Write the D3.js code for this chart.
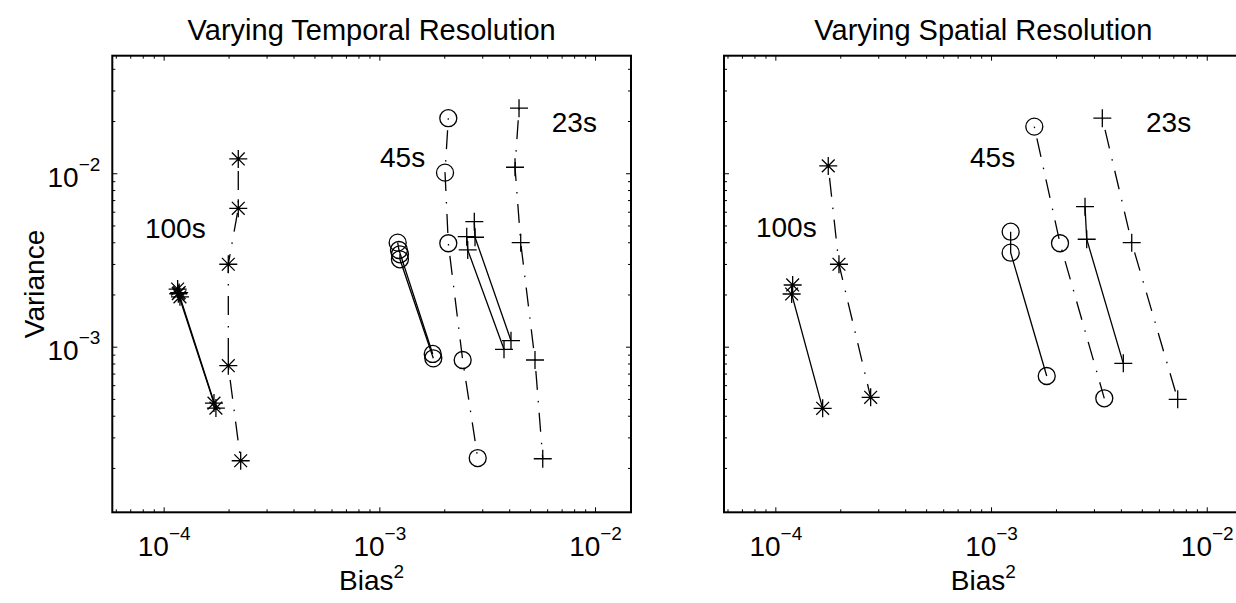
<!DOCTYPE html>
<html>
<head>
<meta charset="utf-8">
<script src="https://cdn.jsdelivr.net/npm/d3@7"></script>
<style>
  body { margin: 0; background: #fff; }
  svg { display: block; font-family: "Liberation Sans", Arial, Helvetica, sans-serif; }
</style>
</head>
<body>
<div id="chart"></div>
<script>
// axis limits (log scales)
const xDomain = [5.78e-5, 1.468e-2];
const yDomain = [1.11e-4, 4.76e-2];
const xMajor = [1e-4, 1e-3, 1e-2];
const yMajor = [1e-3, 1e-2];

const titles = ["Varying Temporal Resolution", "Varying Spatial Resolution"];
const resLabels = ["100s", "45s", "23s"];

// Varying temporal resolution: [bias^2, variance]
const t100Solid = [
  [[1.161e-4, 2.15e-3], [1.169e-4, 2.02e-3], [1.711e-4, 4.73e-4]],
  [[1.180e-4, 2.05e-3], [1.190e-4, 1.94e-3], [1.747e-4, 4.43e-4]]
];
const t100Dash = [[2.218e-4, 1.209e-2], [2.218e-4, 6.28e-3], [1.994e-4, 2.987e-3], [1.994e-4, 7.77e-4], [2.276e-4, 2.20e-4]];
const t45Solid = [
  [[1.216e-3, 3.98e-3], [1.233e-3, 3.61e-3], [1.768e-3, 9.08e-4]],
  [[1.246e-3, 3.41e-3], [1.246e-3, 3.19e-3], [1.779e-3, 8.57e-4]]
];
const t45Dash = [[2.088e-3, 2.076e-2], [2.016e-3, 1.008e-2], [2.088e-3, 3.947e-3], [2.434e-3, 8.38e-4], [2.858e-3, 2.281e-4]];
const t23Solid = [
  [[2.756e-3, 5.258e-3], [2.777e-3, 4.275e-3], [4.077e-3, 1.083e-3]],
  [[2.542e-3, 4.309e-3], [2.569e-3, 3.612e-3], [3.784e-3, 9.66e-4]]
];
const t23Dash = [[4.442e-3, 2.371e-2], [4.256e-3, 1.083e-2], [4.523e-3, 3.979e-3], [5.268e-3, 8.38e-4], [5.722e-3, 2.26e-4]];
const tLabelPos = [[8.19e-5, 4.24e-3], [1.007e-3, 1.087e-2], [6.3e-3, 1.738e-2]];

// Varying spatial resolution
const s100Solid = [[1.203e-4, 2.269e-3], [1.19e-4, 2.013e-3], [1.657e-4, 4.414e-4]];
const s100Dash = [[1.759e-4, 1.102e-2], [1.972e-4, 2.987e-3], [2.766e-4, 5.108e-4]];
const s45Solid = [[1.233e-3, 4.603e-3], [1.233e-3, 3.484e-3], [1.812e-3, 6.777e-4]];
const s45Dash = [[1.587e-3, 1.857e-2], [2.088e-3, 3.947e-3], [3.35e-3, 5.04e-4]];
const s23Solid = [[2.727e-3, 6.418e-3], [2.777e-3, 4.163e-3], [4.104e-3, 8.02e-4]];
const s23Dash = [[3.28e-3, 2.076e-2], [4.49e-3, 3.979e-3], [7.335e-3, 4.97e-4]];
const sLabelPos = [[8.13e-5, 4.29e-3], [7.99e-4, 1.087e-2], [5.23e-3, 1.738e-2]];

const W = 1236, H = 603;
const panelW = 518.7, panelH = 456.6, panelTop = 55.7;
const panelLeft = [112.3, 724];
const DASHDOT = "1.5,10.5,19,11";

const svg = d3.select("#chart").append("svg").attr("width", W).attr("height", H);

const x = d3.scaleLog().domain(xDomain).range([0, panelW]);
const y = d3.scaleLog().domain(yDomain).range([panelH, 0]);
const line = d3.line().x(d => x(d[0])).y(d => y(d[1]));

function minors(domain) {
  const out = [];
  for (let k = -6; k <= 0; k++) {
    for (let m = 2; m <= 9; m++) {
      const v = m * Math.pow(10, k);
      if (v > domain[0] && v < domain[1]) out.push(v);
    }
  }
  return out;
}

function supLabel(sel, d) {
  sel.text(null);
  sel.append("tspan").text("10");
  sel.append("tspan").attr("dy", -16).attr("font-size", 19)
    .text("\u2212" + Math.abs(Math.round(Math.log10(d))));
}

function marker(g, type, px, py) {
  const r = 9;
  if (type === "circle") {
    g.append("circle").attr("cx", px).attr("cy", py).attr("r", 8.5);
  } else {
    let p = `M${px - r},${py}H${px + r}M${px},${py - r}V${py + r}`;
    if (type === "star") {
      const q = 6.4;
      p += `M${px - q},${py - q}L${px + q},${py + q}M${px - q},${py + q}L${px + q},${py - q}`;
    }
    g.append("path").attr("d", p);
  }
}

function drawPanel(i, series, labelPos, showY) {
  const g = svg.append("g").attr("transform", `translate(${panelLeft[i]},${panelTop})`);

  // ticks (inward, on all four sides)
  const xm = minors(xDomain), ym = minors(yDomain);
  const axes = [
    ["bottom", d3.axisBottom(x), `translate(0,${panelH})`, xMajor, xm, true],
    ["top", d3.axisTop(x), null, xMajor, xm, false],
    ["left", d3.axisLeft(y), null, yMajor, ym, showY],
    ["right", d3.axisRight(y), `translate(${panelW},0)`, yMajor, ym, false]
  ];
  axes.forEach(([side, ax, tr, maj, mn, labels]) => {
    const a = g.append("g");
    if (tr) a.attr("transform", tr);
    a.call(ax.tickValues(maj).tickSizeInner(-5).tickSizeOuter(0).tickPadding(0)
      .tickFormat(labels ? (d => d) : ""));
    a.select(".domain").remove();
    if (labels) {
      const t = a.selectAll(".tick text").attr("fill", "#000").attr("font-size", 28).attr("dy", 0)
        .each(function(d) { supLabel(d3.select(this), d); });
      if (side === "bottom") t.attr("y", 44).attr("text-anchor", "middle");
      else t.attr("x", -12).attr("y", 13).attr("text-anchor", "end");
    }
    const m = a.append("g").call(ax.tickValues(mn).tickSizeInner(-3).tickFormat(""));
    m.select(".domain").remove();
    a.selectAll("line").attr("stroke", "#000").attr("stroke-width", 1);
  });

  g.append("rect").attr("width", panelW).attr("height", panelH)
    .attr("fill", "none").attr("stroke", "#000").attr("stroke-width", 2);

  // data
  const dg = g.append("g").attr("fill", "none").attr("stroke", "#000").attr("stroke-width", 1.3);
  series.forEach(s => {
    dg.append("path").attr("d", line(s.pts))
      .attr("stroke-dasharray", s.dash ? DASHDOT : null);
    s.pts.forEach(p => marker(dg, s.marker, x(p[0]), y(p[1])));
  });

  labelPos.forEach((p, k) => {
    g.append("text").attr("x", x(p[0])).attr("y", y(p[1]))
      .attr("font-size", 28).text(resLabels[k]);
  });

  // titles and axis labels
  g.append("text").attr("x", panelW / 2).attr("y", 40 - panelTop)
    .attr("text-anchor", "middle").attr("font-size", 29).text(titles[i]);
  const xl = g.append("text").attr("x", panelW / 2).attr("y", 590 - panelTop)
    .attr("text-anchor", "middle").attr("font-size", 28);
  xl.append("tspan").text("Bias");
  xl.append("tspan").attr("dy", -12).attr("font-size", 19).text("2");
  if (showY) {
    g.append("text").attr("transform", `translate(${44 - panelLeft[i]},${panelH / 2}) rotate(-90)`)
      .attr("text-anchor", "middle").attr("font-size", 28).text("Variance");
  }
}

const tSeries = [
  ...t100Solid.map(p => ({ pts: p, dash: false, marker: "star" })),
  { pts: t100Dash, dash: true, marker: "star" },
  ...t45Solid.map(p => ({ pts: p, dash: false, marker: "circle" })),
  { pts: t45Dash, dash: true, marker: "circle" },
  ...t23Solid.map(p => ({ pts: p, dash: false, marker: "plus" })),
  { pts: t23Dash, dash: true, marker: "plus" }
];
const sSeries = [
  { pts: s100Solid, dash: false, marker: "star" },
  { pts: s100Dash, dash: true, marker: "star" },
  { pts: s45Solid, dash: false, marker: "circle" },
  { pts: s45Dash, dash: true, marker: "circle" },
  { pts: s23Solid, dash: false, marker: "plus" },
  { pts: s23Dash, dash: true, marker: "plus" }
];

drawPanel(0, tSeries, tLabelPos, true);
drawPanel(1, sSeries, sLabelPos, false);
</script>
</body>
</html>
